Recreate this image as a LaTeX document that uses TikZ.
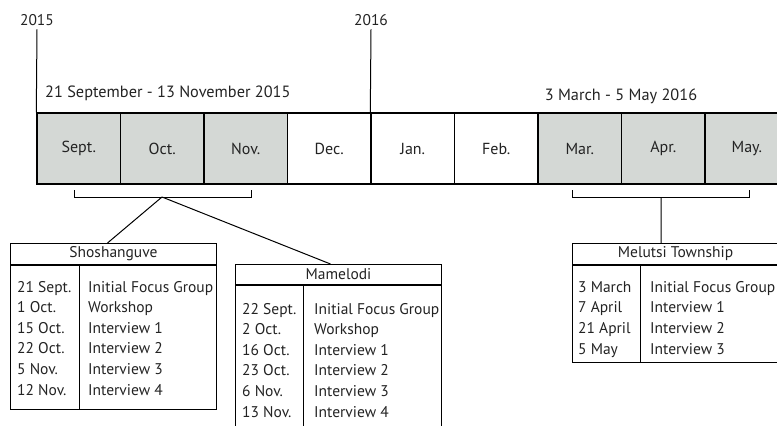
\documentclass[tikz,border=0pt]{standalone}
\usepackage{fontspec}
\setmainfont{PT Sans}
\usetikzlibrary{positioning}
\definecolor{graa}{RGB}{212,216,213}
\definecolor{skrift}{RGB}{35,35,35}

\begin{document}
\begin{tikzpicture}[
    x=1pt, y=-1pt,
    maaned/.style = {rectangle, draw, line width=1.4pt, minimum width=83.5pt, minimum height=71pt, inner sep=0pt, font=\fontsize{16}{18}\selectfont, text=skrift},
    kasse/.style = {rectangle, draw, line width=1pt, anchor=north west, inner sep=0pt, minimum width=206pt},
    kop/.style = {kasse, minimum height=21pt, font=\fontsize{15.5}{18}\selectfont, text=skrift},
    tekst/.style = {anchor=base west, inner sep=0pt, font=\fontsize{15.5}{18}\selectfont, text=skrift},
    streg/.style = {line width=1pt},
    ]
  \clip (0,0) rectangle (777,426);

  % maanederne
  \foreach \m/\f [count=\i] in {Sept./graa, Oct./graa, Nov./graa, Dec./white, Jan./white, Feb./white, Mar./graa, Apr./graa, May./graa} {
    \node[maaned, fill=\f] (m\i) at ({37+83.5*(\i-0.5)},148.5) {\m};
  }

  \node[tekst, anchor=base] (aar1) at (37,25) {2015};
  \node[tekst, anchor=base] (aar2) at (371,25) {2016};
  \draw[streg] ([yshift=-4pt]aar1.south) -- (m1.north west);
  \draw[streg] ([yshift=-4pt]aar2.south) -- (m5.north west);

  \node[tekst, font=\fontsize{16.3}{19}\selectfont] (periode1) at (45,97) {21 September - 13 November 2015};
  \node[tekst, anchor=base, font=\fontsize{16.3}{19}\selectfont] (periode2) at (621,100) {3 March - 5 May 2016};

  % klammer
  \coordinate (vb) at (162,197);
  \coordinate (hb) at (661,197);
  \draw[streg] (74,190) |- (251,197) -- (251,190);
  \draw[streg] (572,190) |- (749,197) -- (749,190);

  % Shoshanguve
  \node[kop] (sho) at (10,243) {Shoshanguve};
  \node[kasse, minimum height=144pt] (shokrop) at (sho.south west) {};
  \draw[streg] ([xshift=69pt]shokrop.north west) -- ([xshift=69pt]shokrop.south west);
  \foreach \d/\a [count=\i] in {21 Sept./Initial Focus Group, 1 Oct./Workshop, 15 Oct./Interview 1, 22 Oct./Interview 2, 5 Nov./Interview 3, 12 Nov./Interview 4} {
    \node[tekst] (shod\i) at (17,{271.4+20.6*\i}) {\d};
    \node[tekst] (shoa\i) at (88,{271.4+20.6*\i}) {\a};
  }

  % Mamelodi
  \node[kop, minimum height=20pt] (mam) at (235,264) {Mamelodi};
  \node[kasse, minimum height=150pt] (mamkrop) at (mam.south west) {};
  \draw[streg] ([xshift=68pt]mamkrop.north west) -- ([xshift=68pt]mamkrop.south west);
  \foreach \d/\a [count=\i] in {22 Sept./Initial Focus Group, 2 Oct./Workshop, 16 Oct./Interview 1, 23 Oct./Interview 2, 6 Nov./Interview 3, 13 Nov./Interview 4} {
    \node[tekst] (mamd\i) at (242,{293.4+20.6*\i}) {\d};
    \node[tekst] (mama\i) at (314,{293.4+20.6*\i}) {\a};
  }

  % Melutsi
  \node[kop] (mel) at (572,243) {Melutsi Township};
  \node[kasse, minimum height=97pt] (melkrop) at (mel.south west) {};
  \draw[streg] ([xshift=68pt]melkrop.north west) -- ([xshift=68pt]melkrop.south west);
  \foreach \d/\a [count=\i] in {3 March/Initial Focus Group, 7 April/Interview 1, 21 April/Interview 2, 5 May/Interview 3} {
    \node[tekst] (meld\i) at (578,{271.3+20.7*\i}) {\d};
    \node[tekst] (mela\i) at (650,{271.3+20.7*\i}) {\a};
  }

  \draw[streg]
  (vb) -- ([xshift=-6pt]sho.north)
  (vb) -- ([xshift=-8pt]mam.north)
  (hb) -- (hb |- mel.north) ;

\end{tikzpicture}
\end{document}
